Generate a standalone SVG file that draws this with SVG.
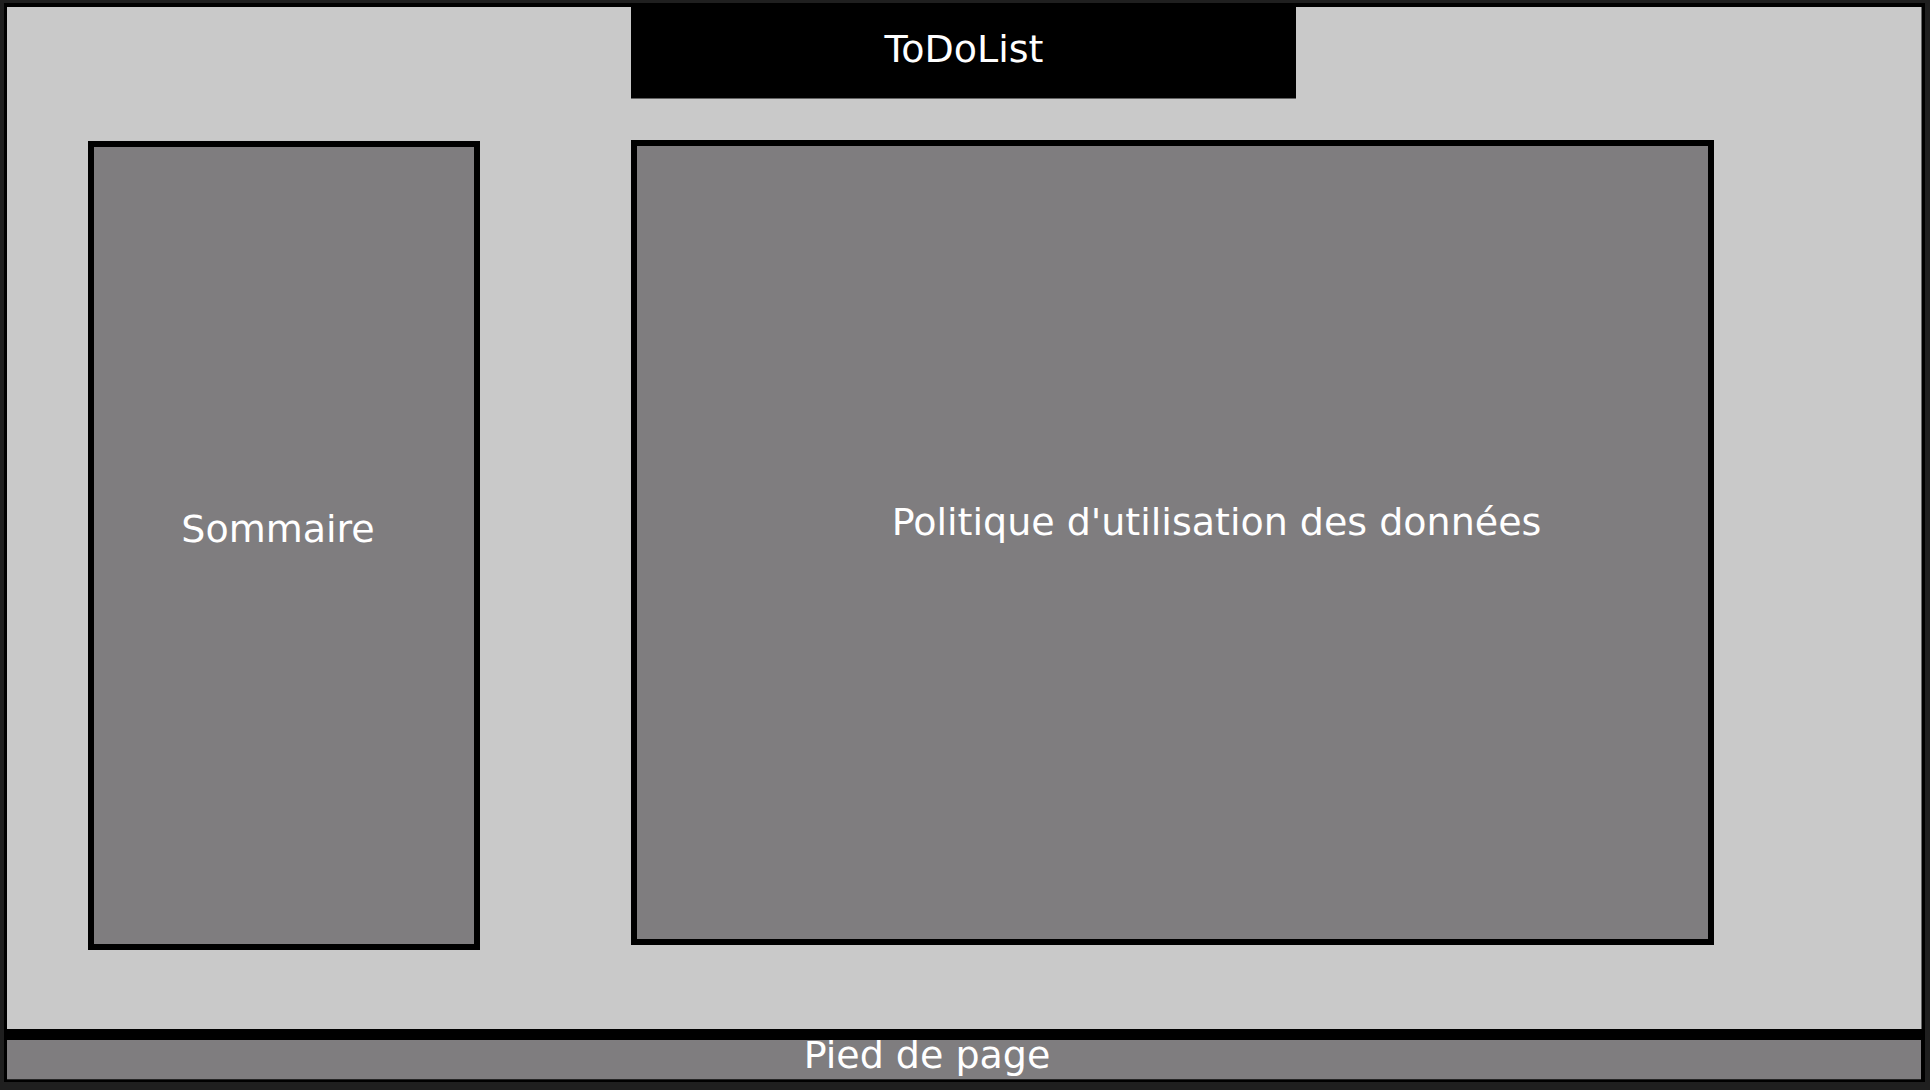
<svg xmlns="http://www.w3.org/2000/svg" width="1930" height="1090" viewBox="0 0 1930 1090">
  <style>
    .lbl { font-family: "DejaVu Sans", "Liberation Sans", sans-serif; font-size: 38px; fill: #ffffff; text-anchor: middle; }
    .box { fill: #7f7d7f; stroke: #000000; stroke-width: 6; }
  </style>
  <rect x="0" y="0" width="1930" height="1090" fill="#1f1f1f"/>
  <g id="page">
    <rect x="4" y="3" width="1921" height="1079" fill="#000000"/>
    <rect x="7" y="7" width="1914.5" height="1022" fill="#c9c9c9"/>
  </g>
  <g id="header">
    <rect x="631" y="3" width="665" height="95.5" fill="#000000"/>
    <text class="lbl" x="964" y="62">ToDoList</text>
  </g>
  <g id="sommaire">
    <rect class="box" x="91" y="144" width="386" height="803"/>
    <text class="lbl" x="278" y="542">Sommaire</text>
  </g>
  <g id="politique">
    <rect class="box" x="634" y="143" width="1077" height="799"/>
    <text class="lbl" x="1216.5" y="535">Politique d'utilisation des données</text>
  </g>
  <g id="footer">
    <rect x="7" y="1040" width="1914" height="39.3" fill="#7f7d7f"/>
    <text class="lbl" x="927" y="1067.5">Pied de page</text>
    <rect x="4" y="1029" width="1921" height="11" fill="#000000"/>
  </g>
  <g id="connectors"/>
</svg>
